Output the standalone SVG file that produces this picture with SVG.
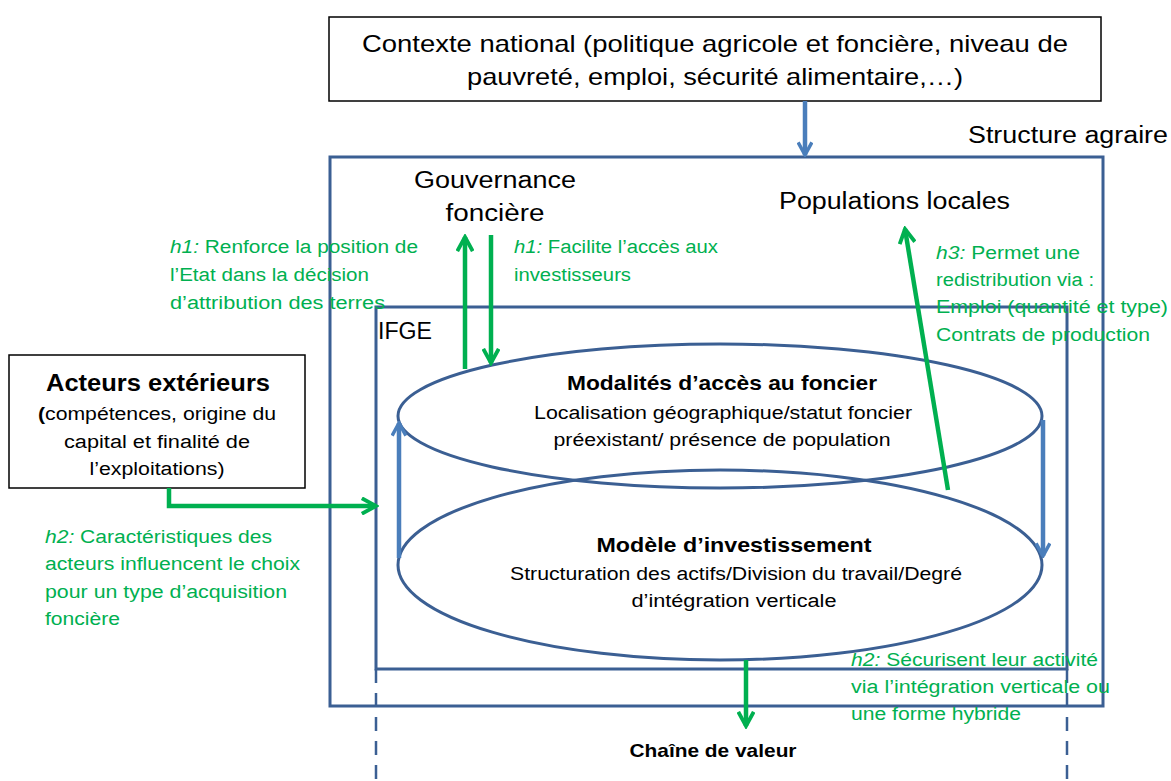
<svg xmlns="http://www.w3.org/2000/svg" width="1171" height="781" viewBox="0 0 1171 781">
<defs>
<style>
text{font-family:"Liberation Sans","Open Sans",sans-serif;}
.k{fill:#000;}
.g{fill:#00B050;}
.it{font-style:italic;}
.b{font-weight:bold;}
.frame{fill:none;stroke:#3B5F93;stroke-width:3;}
.box{fill:#fff;stroke:#000;stroke-width:1.5;}
.ell{fill:none;stroke:#3B5F93;stroke-width:3;}
.ba{fill:none;stroke:#4A7EBB;stroke-width:4.5;}
.ga{fill:none;stroke:#00B050;stroke-width:4.5;}
.dash{fill:none;stroke:#3B5F93;stroke-width:2.5;stroke-dasharray:14,10;}
</style>
<marker id="mb2" viewBox="0 0 14 14" refX="12" refY="7" markerWidth="16" markerHeight="16" markerUnits="userSpaceOnUse" orient="auto"><path d="M1,1 L12,7 L1,13" fill="none" stroke="#4A7EBB" stroke-width="3"/></marker>
<marker id="mg" viewBox="0 0 14 14" refX="12" refY="7" markerWidth="18" markerHeight="18" markerUnits="userSpaceOnUse" orient="auto"><path d="M1,1 L12,7 L1,13" fill="none" stroke="#00B050" stroke-width="3"/></marker>
</defs>

<g id="structure-agraire">
<rect class="frame" x="330" y="157" width="773" height="549"/>
<text x="968" y="143" font-size="23" textLength="200" lengthAdjust="spacingAndGlyphs">Structure agraire</text>
</g>

<g id="ifge">
<rect class="frame" x="376" y="307" width="691" height="362"/>
<line class="dash" x1="376" y1="669" x2="376" y2="781"/>
<line class="dash" x1="1067" y1="669" x2="1067" y2="781"/>
<text x="378" y="339" font-size="23" textLength="54" lengthAdjust="spacingAndGlyphs">IFGE</text>
</g>

<g id="modele-investissement">
<ellipse class="ell" cx="720" cy="565" rx="322" ry="95"/>
<text x="734" y="552" font-size="21" class="b" text-anchor="middle" textLength="275" lengthAdjust="spacingAndGlyphs">Modèle d’investissement</text>
<text x="736" y="580" font-size="18" text-anchor="middle" textLength="452" lengthAdjust="spacingAndGlyphs">Structuration des actifs/Division du travail/Degré</text>
<text x="734" y="607" font-size="18" text-anchor="middle" textLength="205" lengthAdjust="spacingAndGlyphs">d’intégration verticale</text>
</g>

<g id="modalites-acces">
<ellipse class="ell" cx="720" cy="416" rx="322" ry="72"/>
<text x="722" y="390" font-size="21" class="b" text-anchor="middle" textLength="310" lengthAdjust="spacingAndGlyphs">Modalités d’accès au foncier</text>
<text x="723" y="419" font-size="18" text-anchor="middle" textLength="378" lengthAdjust="spacingAndGlyphs">Localisation géographique/statut foncier</text>
<text x="722" y="446" font-size="18" text-anchor="middle" textLength="337" lengthAdjust="spacingAndGlyphs">préexistant/ présence de population</text>
</g>

<g id="contexte-national">
<rect class="box" x="329" y="17" width="772" height="84"/>
<text x="715" y="52" font-size="24" text-anchor="middle" textLength="706" lengthAdjust="spacingAndGlyphs">Contexte national (politique agricole et foncière, niveau de</text>
<text x="715" y="85" font-size="24" text-anchor="middle" textLength="496" lengthAdjust="spacingAndGlyphs">pauvreté, emploi, sécurité alimentaire,…)</text>
</g>

<g id="gouvernance-fonciere">
<text x="495" y="188" font-size="23" text-anchor="middle" textLength="162" lengthAdjust="spacingAndGlyphs">Gouvernance</text>
<text x="495" y="221" font-size="23" text-anchor="middle" textLength="99" lengthAdjust="spacingAndGlyphs">foncière</text>
</g>

<g id="populations-locales">
<text x="779" y="209" font-size="23" textLength="231" lengthAdjust="spacingAndGlyphs">Populations locales</text>
</g>

<g id="acteurs-exterieurs">
<rect class="box" x="9" y="355" width="296" height="133"/>
<text x="158" y="391" font-size="23" class="b" text-anchor="middle" textLength="224" lengthAdjust="spacingAndGlyphs">Acteurs extérieurs</text>
<text x="38" y="420" font-size="18" textLength="238" lengthAdjust="spacingAndGlyphs"><tspan class="b">(</tspan>compétences, origine du</text>
<text x="157" y="448" font-size="18" text-anchor="middle" textLength="186" lengthAdjust="spacingAndGlyphs">capital et finalité de</text>
<text x="157" y="475" font-size="18" text-anchor="middle" textLength="135" lengthAdjust="spacingAndGlyphs">l’exploitations)</text>
</g>

<g id="chaine-valeur">
<text x="713" y="757" font-size="19" class="b" text-anchor="middle" textLength="167" lengthAdjust="spacingAndGlyphs">Chaîne de valeur</text>
</g>

<g id="connectors">
<line class="ba" x1="805" y1="101" x2="805" y2="155" marker-end="url(#mb2)"/>
<line class="ba" x1="399" y1="558" x2="399" y2="423" marker-end="url(#mb2)"/>
<line class="ba" x1="1043" y1="420" x2="1043" y2="556" marker-end="url(#mb2)"/>
<line class="ga" x1="465" y1="369" x2="465" y2="237" marker-end="url(#mg)"/>
<line class="ga" x1="491" y1="235" x2="491" y2="363" marker-end="url(#mg)"/>
<line class="ga" x1="948" y1="490" x2="905" y2="229" marker-end="url(#mg)"/>
<polyline class="ga" points="169,488 169,506 376,506" marker-end="url(#mg)"/>
<line class="ga" x1="746" y1="660" x2="746" y2="726" marker-end="url(#mg)"/>
</g>

<g id="labels">
<text class="g" x="170" y="253" font-size="18" textLength="248" lengthAdjust="spacingAndGlyphs"><tspan class="it">h1:</tspan> Renforce la position de</text>
<text class="g" x="170" y="281" font-size="18" textLength="199" lengthAdjust="spacingAndGlyphs">l’Etat dans la décision</text>
<text class="g" x="170" y="309" font-size="18" textLength="215" lengthAdjust="spacingAndGlyphs">d’attribution des terres</text>

<text class="g" x="514" y="253" font-size="18" textLength="204" lengthAdjust="spacingAndGlyphs"><tspan class="it">h1:</tspan> Facilite l’accès aux</text>
<text class="g" x="514" y="281" font-size="18" textLength="117" lengthAdjust="spacingAndGlyphs">investisseurs</text>

<text class="g" x="936" y="259" font-size="18" textLength="144" lengthAdjust="spacingAndGlyphs"><tspan class="it">h3:</tspan> Permet une</text>
<text class="g" x="936" y="286" font-size="18" textLength="158" lengthAdjust="spacingAndGlyphs">redistribution via :</text>
<text class="g" x="936" y="313" font-size="18" textLength="232" lengthAdjust="spacingAndGlyphs">Emploi (quantité et type)</text>
<text class="g" x="936" y="341" font-size="18" textLength="214" lengthAdjust="spacingAndGlyphs">Contrats de production</text>

<text class="g" x="45" y="543" font-size="18" textLength="227" lengthAdjust="spacingAndGlyphs"><tspan class="it">h2:</tspan> Caractéristiques  des</text>
<text class="g" x="45" y="570" font-size="18" textLength="255" lengthAdjust="spacingAndGlyphs">acteurs influencent le choix</text>
<text class="g" x="45" y="598" font-size="18" textLength="242" lengthAdjust="spacingAndGlyphs">pour un type d’acquisition</text>
<text class="g" x="45" y="625" font-size="18" textLength="75" lengthAdjust="spacingAndGlyphs">foncière</text>

<text class="g" x="851" y="666" font-size="18" textLength="247" lengthAdjust="spacingAndGlyphs"><tspan class="it">h2:</tspan> Sécurisent leur activité</text>
<text class="g" x="851" y="693" font-size="18" textLength="259" lengthAdjust="spacingAndGlyphs">via l’intégration verticale ou</text>
<text class="g" x="851" y="720" font-size="18" textLength="170" lengthAdjust="spacingAndGlyphs">une forme hybride</text>
</g>
</svg>
